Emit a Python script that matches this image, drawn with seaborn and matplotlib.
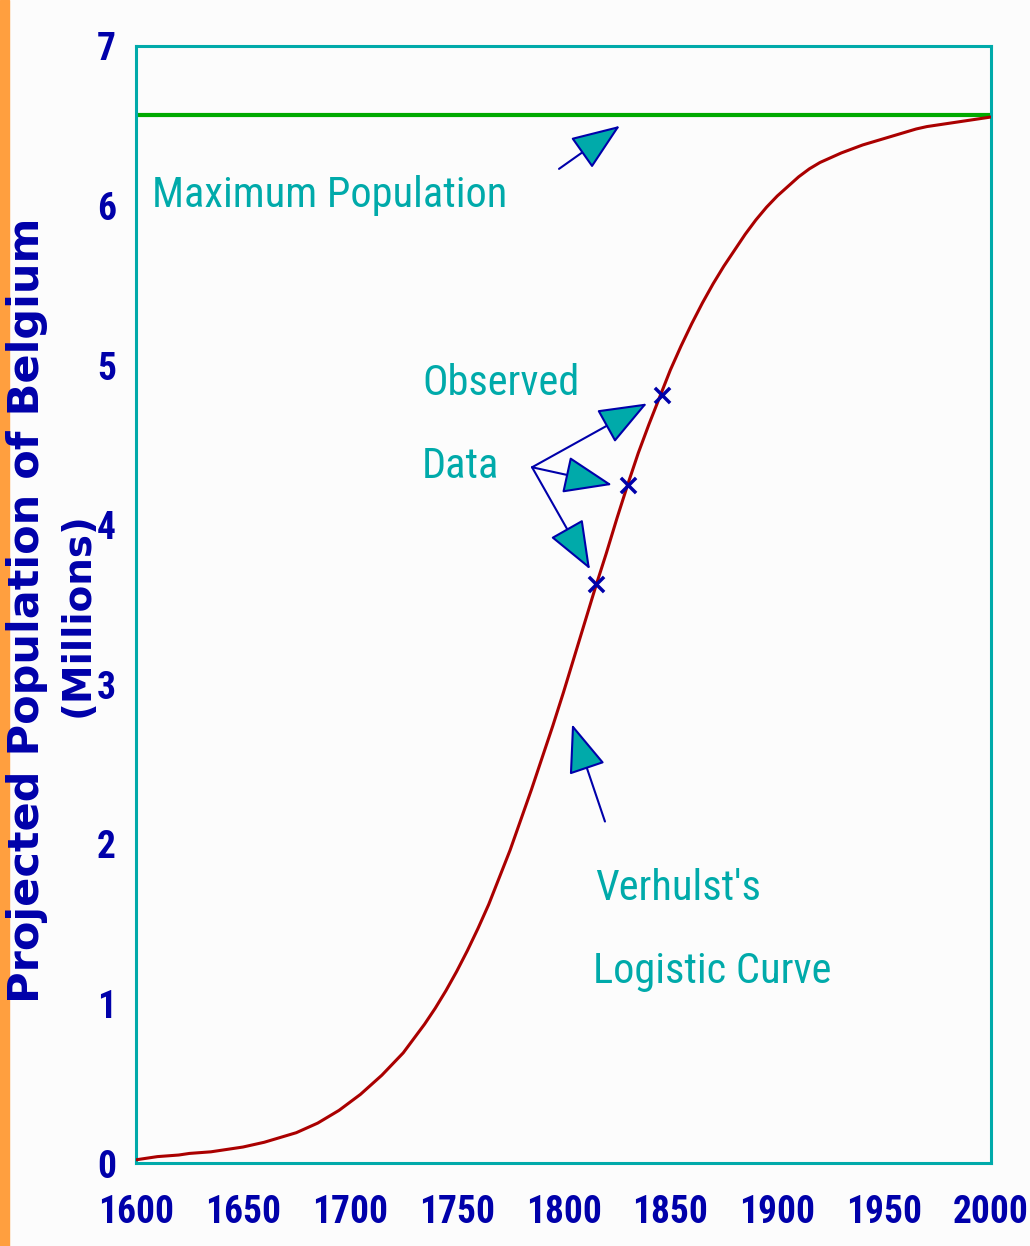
import matplotlib
matplotlib.use("Agg")
import matplotlib.pyplot as plt
from matplotlib import font_manager
from matplotlib.patches import Rectangle
import pandas as pd
import seaborn as sns

# logistic curve, every 5 years
years = list(range(1600, 2001, 5))
population = [0.02, 0.03, 0.04, 0.045, 0.05, 0.06, 0.065, 0.07, 0.08, 0.09,
              0.10, 0.115, 0.13, 0.15, 0.17, 0.19, 0.22, 0.25, 0.29, 0.33,
              0.38, 0.43, 0.49, 0.55, 0.62, 0.69, 0.78, 0.87, 0.97, 1.08,
              1.20, 1.33, 1.47, 1.62, 1.79, 1.96, 2.15, 2.34, 2.54, 2.74,
              2.95, 3.17, 3.39, 3.61, 3.82, 4.04, 4.25, 4.45, 4.63, 4.80,
              4.97, 5.12, 5.26, 5.39, 5.51, 5.62, 5.72, 5.82, 5.91, 5.99,
              6.06, 6.12, 6.18, 6.23, 6.27, 6.30, 6.33, 6.355, 6.38, 6.40,
              6.42, 6.44, 6.46, 6.48, 6.495, 6.505, 6.515, 6.525, 6.535, 6.545, 6.555]

obs_years = [1815, 1830, 1846]
obs_population = [3.63, 4.25, 4.81]

max_population = 6.57

x_ticks = [1600, 1650, 1700, 1750, 1800, 1850, 1900, 1950, 2000]
y_ticks = [0, 1, 2, 3, 4, 5, 6, 7]

TEAL = '#00AAAA'
BLUE = '#0000AA'
RED = '#AA0000'
GREEN = '#00AA00'
BG = '#FCFCFC'

sns.set_style("white")

# look for a narrow face, the original lettering is very condensed
entries = font_manager.fontManager.ttflist
narrow_name, narrow_stretch = 'DejaVu Sans', 'normal'
for want in ['Liberation Sans Narrow', 'Roboto Condensed', 'DejaVu Sans Condensed', 'DejaVu Sans', 'Noto Sans']:
    hits = [f for f in entries if f.name == want and
            (f.stretch in ('condensed', 'semi-condensed', 'extra-condensed') or 'Narrow' in want or 'Condensed' in want)]
    if hits:
        narrow_name, narrow_stretch = hits[0].name, hits[0].stretch
        break

fig = plt.figure(figsize=(10.30, 12.46), dpi=100, facecolor=BG)
ax = fig.add_axes([136 / 1030, 83 / 1246, 855 / 1030, 1117 / 1246])
ax.set_facecolor(BG)

# orange strip on the left edge
fig.patches.append(Rectangle((0, 0), 9 / 1030, 1, transform=fig.transFigure,
                             color='#FF9F3F', zorder=0))

curve = pd.DataFrame({'year': years, 'population': population})
obs = pd.DataFrame({'year': obs_years, 'population': obs_population})

ax.axhline(max_population, color=GREEN, linewidth=3.0, zorder=2)
sns.lineplot(data=curve, x='year', y='population', color=RED, linewidth=2.2, ax=ax, zorder=3)
sns.scatterplot(data=obs, x='year', y='population', marker='x', s=120, color=BLUE,
                linewidth=2.5, ax=ax, zorder=4)

ax.set_xlim(1600, 2000)
ax.set_ylim(0, 7)
ax.set_xticks(x_ticks)
ax.set_yticks(y_ticks)
ax.set_xlabel('')
ax.set_ylabel('')

for s in ax.spines.values():
    s.set_color(TEAL)
    s.set_linewidth(2.2)
    s.set_visible(True)

ax.tick_params(axis='x', direction='out', length=13, width=1.6, color=TEAL, pad=9)
ax.tick_params(axis='y', direction='out', length=4.5, width=2.2, color=TEAL, pad=10)
tick_labels = ax.get_xticklabels() + ax.get_yticklabels()
for lab in tick_labels:
    lab.set_family(narrow_name)
    lab.set_stretch(narrow_stretch)
    lab.set_fontsize(30)
    lab.set_fontweight('bold')
    lab.set_color(BLUE)

# axis title in two lines, rotated
fig.text(27 / 1030, 1 - 610 / 1246, 'Projected Population of Belgium', rotation=90,
         ha='center', va='center', fontsize=31, fontweight='bold', color=BLUE)
fig.text(78 / 1030, 1 - 615 / 1246, '(Millions)', rotation=90,
         ha='center', va='center', fontsize=28, fontweight='bold', color=BLUE)

# annotations
txt = dict(color=TEAL, fontsize=36, family=narrow_name, stretch=narrow_stretch,
           ha='left', va='baseline')
notes = [ax.text(1607.5, 5.99, 'Maximum Population', **txt),
         ax.text(1733.8, 4.81, 'Observed', **txt),
         ax.text(1733.8, 4.29, 'Data', **txt),
         ax.text(1814.7, 1.65, "Verhulst's", **txt),
         ax.text(1813.8, 1.13, 'Logistic Curve', **txt)]

# shrink the lettering until it is as wide as in the original
renderer = fig.canvas.get_renderer()
w = notes[0].get_window_extent(renderer).width
if w > 355:
    for t in notes:
        t.set_fontsize(36 * 355 / w)
w = ax.get_xticklabels()[0].get_window_extent(renderer).width
if w > 76:
    for lab in tick_labels:
        lab.set_fontsize(30 * 76 / w)

arrow = dict(arrowstyle='-|>,head_length=3.1,head_width=1.2', mutation_scale=10,
             edgecolor=BLUE, facecolor=TEAL, linewidth=1.5, shrinkA=0, shrinkB=0)
ax.annotate('', xy=(1826.4, 6.50), xytext=(1797.9, 6.23), arrowprops=arrow)
ax.annotate('', xy=(1839.1, 4.76), xytext=(1785.3, 4.36), arrowprops=arrow)
ax.annotate('', xy=(1822.7, 4.25), xytext=(1785.3, 4.36), arrowprops=arrow)
ax.annotate('', xy=(1812.4, 3.72), xytext=(1785.3, 4.36), arrowprops=arrow)
ax.annotate('', xy=(1804.0, 2.75), xytext=(1819.4, 2.14), arrowprops=arrow)

fig.savefig('out.png', dpi=100, facecolor=BG)
